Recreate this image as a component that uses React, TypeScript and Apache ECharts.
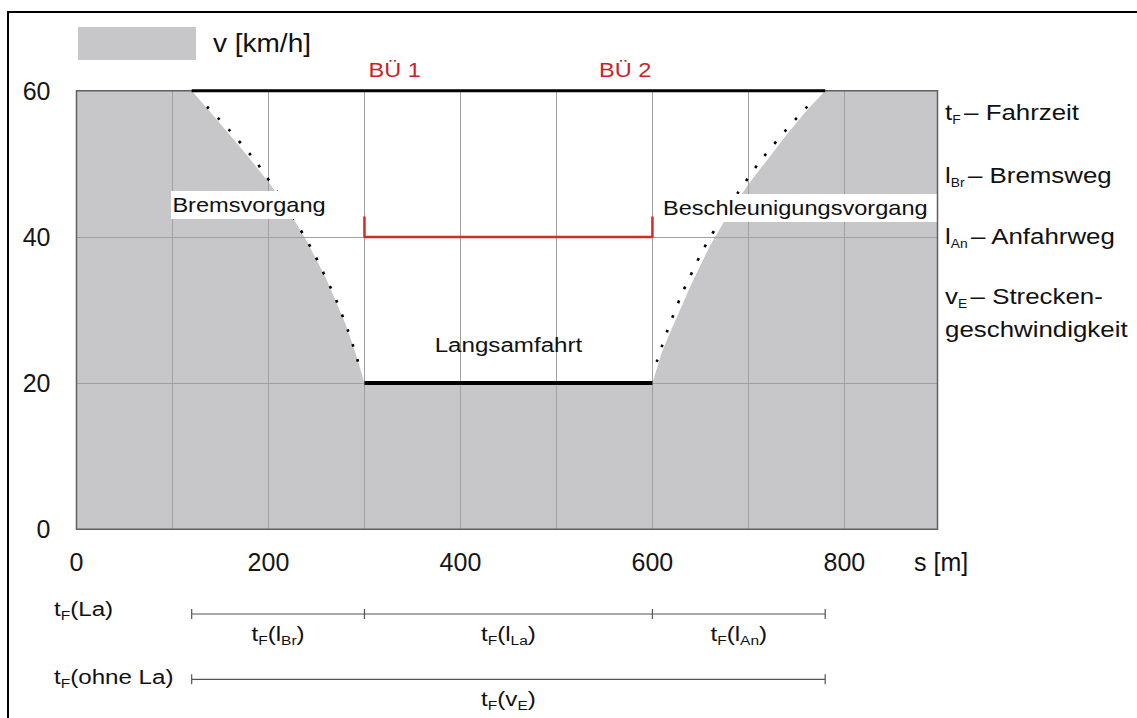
import React, { useEffect, useRef } from "react";
import * as echarts from "echarts";

// ---- data ----
const xMax = 897; // right edge of the plot [m]
const yMax = 60; // top of the plot [km/h]
const xLabelTicks = [0, 200, 400, 600, 800];
const yTickStep = 20;

// braking (Bremsvorgang) edge of the speed profile
const brakeS = [120, 140, 160, 180, 200, 220, 240, 260, 280, 290, 300];
const brakeV = [60, 57.0, 53.9, 50.8, 47.5, 43.8, 39.4, 34.3, 28.2, 24.4, 20];
// acceleration (Beschleunigungsvorgang) edge
const accelS = [600, 610, 620, 640, 660, 680, 700, 720, 740, 760, 780];
const accelV = [20, 24.3, 27.4, 33.4, 38.8, 43.3, 47.2, 50.6, 54.0, 57.2, 60];
// dotted guide curves
const brakeDotS = [136, 169.3, 199.2, 234.6, 257.6, 277.4, 293.4];
const brakeDotV = [57.8, 53.1, 48.0, 40.7, 35.0, 29.1, 22.9];
const accelDotS = [604.5, 621.2, 640.7, 663.6, 699.4, 729.3, 761.9];
const accelDotV = [22.9, 29.1, 35.0, 40.7, 48.0, 53.1, 57.9];

const lineSpeed = 60; // vE
const slowSpeed = 20; // Langsamfahrt
const phaseS = [120, 300, 600, 780]; // start braking, BÜ 1, BÜ 2, end accel
const buLabels = ["BÜ 1", "BÜ 2"];
const bracketV = [40, 42.8];

const FONT = "'Liberation Sans', Arial, Helvetica, sans-serif";
const RED = "#cc1f27";
const GRAY = "#c7c7c9";
const SX = 1.15;

const zip = (a: number[], b: number[]) => a.map((v, i) => [v, b[i]]);

export default function App() {
  const ref = useRef<HTMLDivElement>(null);
  useEffect(() => {
    if (!ref.current) return;
    const chart = echarts.init(ref.current, null, { renderer: "svg" });
    const profile = [...zip(brakeS, brakeV), ...zip(accelS, accelV)];
    chart.setOption({
      animation: false,
      textStyle: { fontFamily: FONT },
      grid: {
        left: 76.5,
        top: 90.7,
        width: 861,
        height: 438.6,
        show: true,
        backgroundColor: GRAY,
        borderWidth: 0,
      },
      xAxis: {
        type: "value",
        min: 0,
        max: xMax,
        interval: 100,
        z: 3,
        axisLine: { show: false },
        axisTick: { show: false },
        splitLine: { show: true, lineStyle: { color: "#a0a0a0", width: 1 } },
        axisLabel: {
          fontSize: 25,
          color: "#161616",
          fontFamily: FONT,
          margin: 20,
          formatter: (v: number) => (xLabelTicks.includes(v) ? String(v) : ""),
        },
      },
      yAxis: {
        type: "value",
        min: 0,
        max: yMax,
        interval: yTickStep,
        z: 3,
        axisLine: { show: false },
        axisTick: { show: false },
        splitLine: { show: true, lineStyle: { color: "#a0a0a0", width: 1 } },
        axisLabel: { fontSize: 25, color: "#161616", fontFamily: FONT, margin: 26 },
      },
      series: [
        {
          type: "line",
          data: profile,
          symbol: "none",
          silent: true,
          z: 1,
          lineStyle: { width: 0 },
          areaStyle: { color: "#ffffff", opacity: 1, origin: "end" },
        },
        {
          type: "line",
          data: zip(brakeDotS, brakeDotV),
          symbol: "none",
          smooth: true,
          z: 4,
          lineStyle: { color: "#000", width: 2.6, type: [2.6, 13] },
        },
        {
          type: "line",
          data: zip(accelDotS, accelDotV),
          symbol: "none",
          smooth: true,
          z: 4,
          lineStyle: { color: "#000", width: 2.6, type: [2.6, 13] },
        },
        {
          type: "line",
          data: [
            [phaseS[0], lineSpeed],
            [phaseS[3], lineSpeed],
          ],
          symbol: "none",
          clip: false,
          z: 6,
          lineStyle: { color: "#000", width: 3 },
        },
        {
          type: "line",
          data: [
            [phaseS[1], slowSpeed],
            [phaseS[2], slowSpeed],
          ],
          symbol: "none",
          clip: false,
          z: 6,
          lineStyle: { color: "#000", width: 4 },
        },
        {
          type: "line",
          data: [
            [phaseS[1], bracketV[1]],
            [phaseS[1], bracketV[0]],
            [phaseS[2], bracketV[0]],
            [phaseS[2], bracketV[1]],
          ],
          symbol: "none",
          z: 6,
          lineStyle: { color: "#d42a2a", width: 2.5 },
        },
      ],
    });

    const px = (s: number, v: number) =>
      chart.convertToPixel({ gridIndex: 0 }, [s, v]) as number[];
    const [x0, yTop] = px(0, yMax);
    const [xR, yBot] = px(xMax, 0);
    const ph = phaseS.map((s) => px(s, 0)[0]);
    const y1 = 614;
    const y2 = 679.3;
    const tick = 5;

    const mainRich = {
      m: { fontSize: 22.5, lineHeight: 28, fontFamily: FONT, color: "#111" },
      s: { fontSize: 12, lineHeight: 26, verticalAlign: "bottom", fontFamily: FONT, color: "#111", padding: [0, 3, 0, 0] },
    };
    const botRich = {
      t: { fontSize: 21, lineHeight: 26, fontFamily: FONT, color: "#111" },
      f: { fontSize: 13.5, lineHeight: 13, verticalAlign: "bottom", fontFamily: FONT, color: "#111" },
    };

    const txt = (text: string, x: number, y: number, opts: any = {}) => ({
      type: "text",
      x,
      y,
      scaleX: opts.scaleX ?? SX,
      z: opts.z ?? 12,
      style: {
        text,
        fontSize: opts.fontSize ?? 20.5,
        fontFamily: FONT,
        fill: opts.fill ?? "#111",
        align: opts.align ?? "left",
        verticalAlign: "middle",
        rich: opts.rich,
      },
    });

    const hline = (xa: number, xb: number, y: number) => ({
      type: "line",
      z: 12,
      shape: { x1: xa, y1: y, x2: xb, y2: y },
      style: { stroke: "#555", lineWidth: 1.2 },
    });
    const vtick = (x: number, y: number) => ({
      type: "line",
      z: 12,
      shape: { x1: x, y1: y - tick, x2: x, y2: y + tick },
      style: { stroke: "#555", lineWidth: 1.2 },
    });

    const tLabel = (inner: string, innerSub: string) =>
      `{t|t}{f|F}{t|(${inner}}` + (innerSub ? `{f|${innerSub}}` : "") + `{t|)}`;

    chart.setOption({
      graphic: [
        // outer frame
        {
          type: "rect",
          z: 20,
          shape: { x: 8, y: 12, width: 1140, height: 720 },
          style: { fill: "none", stroke: "#000", lineWidth: 2 },
        },
        // plot border
        {
          type: "rect",
          z: 4,
          shape: { x: x0, y: yTop, width: xR - x0, height: yBot - yTop },
          style: { fill: "none", stroke: "#5f5f5f", lineWidth: 1.5 },
        },
        // legend
        { type: "rect", z: 12, shape: { x: 78, y: 27, width: 118, height: 33 }, style: { fill: GRAY } },
        txt("v [km/h]", 213, 44, { fontSize: 25, scaleX: 1.12 }),
        // BÜ labels
        txt(buLabels[0], ph[1] + 4, 70, { fill: RED }),
        txt(buLabels[1], ph[2] - 1, 70, { fill: RED, align: "right" }),
        // phase labels with white boxes
        { type: "rect", z: 10, shape: { x: 171, y: 191, width: 156, height: 28 }, style: { fill: "#fff" } },
        txt("Bremsvorgang", 249, 205, { align: "center" }),
        { type: "rect", z: 10, shape: { x: 661, y: 194, width: xR - 1 - 661, height: 28 }, style: { fill: "#fff" } },
        txt("Beschleunigungsvorgang", 663, 208),
        txt("Langsamfahrt", (ph[1] + ph[2]) / 2, 345.5, { align: "center", fontSize: 21 }),
        // axis name
        txt("s [m]", 914, 562, { fontSize: 25, scaleX: 1.0 }),
        // right legend
        txt("{m|t}{s|F}{m|– Fahrzeit}", 945, 112, { rich: mainRich }),
        txt("{m|l}{s|Br}{m|– Bremsweg}", 945, 175, { rich: mainRich }),
        txt("{m|l}{s|An}{m|– Anfahrweg}", 945, 236, { rich: mainRich }),
        txt("{m|v}{s|E}{m|– Strecken-}", 945, 296, { rich: mainRich }),
        txt("{m|geschwindigkeit}", 945, 329.5, { rich: mainRich }),
        // bottom time bars
        txt(tLabel("La", ""), 54, 609, { rich: botRich }),
        hline(ph[0], ph[3], y1),
        ...ph.map((x) => vtick(x, y1)),
        txt(tLabel("l", "Br"), (ph[0] + ph[1]) / 2, 634, { rich: botRich, align: "center" }),
        txt(tLabel("l", "La"), (ph[1] + ph[2]) / 2, 634, { rich: botRich, align: "center" }),
        txt(tLabel("l", "An"), (ph[2] + ph[3]) / 2, 634, { rich: botRich, align: "center" }),
        txt(tLabel("ohne La", ""), 54, 677.5, { rich: botRich }),
        hline(ph[0], ph[3], y2),
        vtick(ph[0], y2),
        vtick(ph[3], y2),
        txt(tLabel("v", "E"), (ph[0] + ph[3]) / 2, 699.5, { rich: botRich, align: "center" }),
      ],
    });

    return () => chart.dispose();
  }, []);
  return (
    <div
      ref={ref}
      style={{ position: "fixed", left: 0, top: 0, width: 1137, height: 718, background: "#fff" }}
    />
  );
}
